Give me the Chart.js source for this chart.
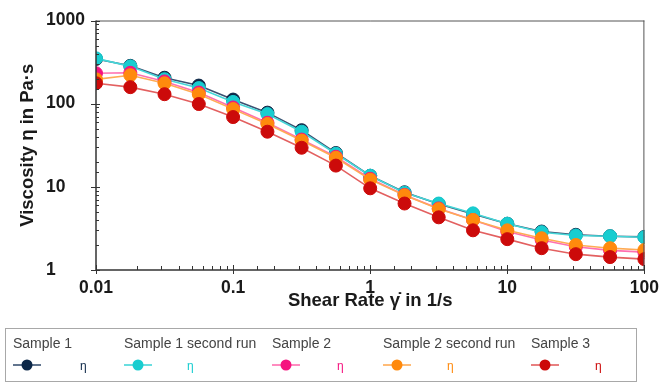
<!DOCTYPE html>
<html>
<head>
<meta charset="utf-8">
<style>
  html, body { margin: 0; padding: 0; background: #fff; }
  #wrap { width: 667px; height: 383px; position: relative; }
</style>
<script src="https://cdn.jsdelivr.net/npm/chart.js@4.4.1/dist/chart.umd.min.js"></script>
</head>
<body>
<div id="wrap"><canvas id="chart" width="667" height="383"></canvas></div>
<script>
// Shear rates (1/s), four points per decade
const shearRate = [0.01, 0.0178, 0.0316, 0.0562, 0.1, 0.178, 0.316, 0.562, 1, 1.78, 3.16, 5.62, 10, 17.8, 31.6, 56.2, 100];

// Viscosity η in Pa·s for each run
const sample1       = [345, 285, 205, 165, 112, 78, 48, 25.5, 13.6, 8.6, 6.2, 4.7, 3.6, 2.9, 2.65, 2.55, 2.5];
const sample1Second = [351, 281, 197, 154, 105, 75, 46, 25, 13.6, 8.5, 6.3, 4.8, 3.6, 2.85, 2.6, 2.55, 2.48];
const sample2       = [232, 235, 185, 136, 90, 59, 37, 23, 12.5, 8.0, 5.5, 4.0, 2.9, 2.3, 1.9, 1.72, 1.64];
const sample2Second = [196, 220, 176, 130, 86, 57, 36, 22.4, 12.2, 7.9, 5.4, 4.0, 3.0, 2.41, 2.0, 1.83, 1.74];
const sample3       = [176, 158, 130, 99, 69, 46, 29.5, 18, 9.6, 6.3, 4.3, 3.0, 2.35, 1.83, 1.55, 1.43, 1.35];

const seriesNames = ['Sample 1', 'Sample 1 second run', 'Sample 2', 'Sample 2 second run', 'Sample 3'];
const xTickLabels = ['0.01', '0.1', '1', '10', '100'];
const yTickLabels = ['1', '10', '100', '1000'];

const markerColors = ['#0c2747', '#18cdd0', '#f5137f', '#ff8a0d', '#cc0a0a'];
const lineColors   = ['#3a5272', '#45d6d8', '#ff6fb0', '#ffab55', '#e36060'];
const legendX      = [13, 124, 272, 383, 531];
const etaX         = [80, 187, 337, 447, 595];

const FONT = '"Liberation Sans", Arial, sans-serif';

function ds(label, values, i, order) {
  return {
    label: label,
    data: shearRate.map((x, k) => ({ x: x, y: values[k] })),
    borderColor: lineColors[i],
    backgroundColor: markerColors[i],
    pointBackgroundColor: markerColors[i],
    pointBorderColor: markerColors[i],
    pointBorderWidth: 1,
    pointRadius: 6.5,
    borderWidth: 1.6,
    tension: 0,
    order: order
  };
}

const isDecade = v => Math.abs(Math.log10(v) - Math.round(Math.log10(v))) < 1e-6;

// Tick marks, frame and the legend box under the plot
const decorations = {
  id: 'decorations',
  afterDraw(chart) {
    const ctx = chart.ctx;
    const a = chart.chartArea;
    const xs = chart.scales.x, ys = chart.scales.y;
    ctx.save();
    ctx.strokeStyle = '#555';
    ctx.lineWidth = 1;
    // frame top / right
    ctx.beginPath();
    ctx.moveTo(a.left, a.top + 0.5); ctx.lineTo(a.right, a.top + 0.5);
    ctx.moveTo(a.right - 0.5, a.top); ctx.lineTo(a.right - 0.5, a.bottom);
    ctx.stroke();
    ctx.strokeStyle = '#333';
    ctx.lineWidth = 1.5;
    ctx.beginPath();
    ctx.moveTo(a.left, a.bottom); ctx.lineTo(a.right, a.bottom);
    ctx.moveTo(a.left, a.top); ctx.lineTo(a.left, a.bottom);
    ctx.stroke();
    ctx.lineWidth = 1;
    ctx.beginPath();
    xs.ticks.forEach(t => {
      const px = Math.round(xs.getPixelForValue(t.value)) + 0.5;
      const major = isDecade(t.value);
      ctx.moveTo(px, a.bottom + (major ? 4 : 0));
      ctx.lineTo(px, a.bottom - (major ? 5 : 4));
    });
    ys.ticks.forEach(t => {
      const py = Math.round(ys.getPixelForValue(t.value)) + 0.5;
      const major = isDecade(t.value);
      ctx.moveTo(a.left - (major ? 5 : 0), py);
      ctx.lineTo(a.left + (major ? 4 : 3), py);
    });
    ctx.stroke();

    // legend
    ctx.strokeStyle = '#a8a8a8';
    ctx.lineWidth = 1;
    ctx.strokeRect(5.5, 328.5, 631, 53);
    chart.data.datasets.forEach((d, i) => {
      const x = legendX[i];
      ctx.fillStyle = '#444';
      ctx.font = '14px ' + FONT;
      ctx.textBaseline = 'middle';
      ctx.textAlign = 'left';
      ctx.fillText(d.label, x, 344);
      ctx.strokeStyle = lineColors[i];
      ctx.lineWidth = 1.6;
      ctx.beginPath();
      ctx.moveTo(x, 365); ctx.lineTo(x + 28, 365);
      ctx.stroke();
      ctx.fillStyle = markerColors[i];
      ctx.beginPath();
      ctx.arc(x + 14, 365, 5.5, 0, Math.PI * 2);
      ctx.fill();
      ctx.font = '12px ' + FONT;
      ctx.fillText('η', etaX[i], 367);
    });
    ctx.restore();
  }
};

new Chart(document.getElementById('chart'), {
  type: 'line',
  data: {
    datasets: [
      ds(seriesNames[0], sample1, 0, 5),
      ds(seriesNames[1], sample1Second, 1, 4),
      ds(seriesNames[2], sample2, 2, 3),
      ds(seriesNames[3], sample2Second, 3, 2),
      ds(seriesNames[4], sample3, 4, 1)
    ]
  },
  options: {
    responsive: false,
    animation: false,
    events: [],
    layout: { padding: { top: 19, right: 21, bottom: 71, left: 46 } },
    plugins: { legend: { display: false }, tooltip: { enabled: false } },
    scales: {
      x: {
        type: 'logarithmic',
        min: 0.01, max: 100,
        border: { display: false },
        grid: { display: false, drawTicks: false, tickLength: 0 },
        ticks: {
          autoSkip: false, maxRotation: 0, padding: 8,
          color: '#1a1a1a',
          font: { family: FONT, size: 17.5, weight: 'bold' },
          callback: v => isDecade(v) ? xTickLabels[Math.round(Math.log10(v)) + 2] : ''
        },
        title: {
          display: true, text: 'Shear Rate γ̇ in 1/s',
          color: '#1a1a1a',
          font: { family: FONT, size: 18.5, weight: 'bold' },
          padding: { top: 0, bottom: 0 }
        },
        afterFit: s => { s.height = 42; }
      },
      y: {
        type: 'logarithmic',
        min: 1, max: 1000,
        border: { display: false },
        grid: { display: false, drawTicks: false, tickLength: 0 },
        ticks: {
          autoSkip: false, padding: 10, crossAlign: 'far',
          color: '#1a1a1a',
          font: { family: FONT, size: 17.5, weight: 'bold' },
          callback: v => isDecade(v) ? yTickLabels[Math.round(Math.log10(v))] : ''
        },
        title: {
          display: true, text: 'Viscosity η in Pa·s',
          color: '#1a1a1a',
          font: { family: FONT, size: 18.5, weight: 'bold' },
          padding: { top: -29, bottom: 0 }
        },
        afterFit: s => { s.width = 50; }
      }
    }
  },
  plugins: [decorations]
});
</script>
</body>
</html>
